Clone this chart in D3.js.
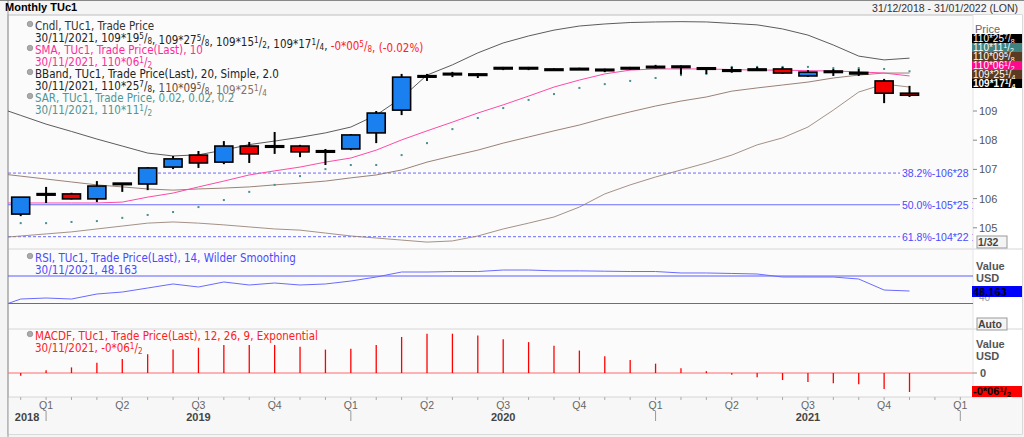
<!DOCTYPE html>
<html><head><meta charset="utf-8">
<script src="https://cdn.jsdelivr.net/npm/d3@7"></script>
<style>body{margin:0;background:#fff}svg{display:block;font-family:"Liberation Sans",Arial,sans-serif}.lg{font-family:"Liberation Sans Narrow","DejaVu Sans Condensed","Liberation Sans",sans-serif}</style>
</head><body><svg id="c" width="1024" height="437"></svg>
<script>
// ---- data (monthly, Dec 2018 .. Nov 2021) ----
const months = d3.range(36);
const open  = [105.47,106.16,106.16,105.99,106.53,106.50,107.08,107.49,107.25,107.80,107.80,107.80,107.63,107.70,108.25,109.03,110.18,110.25,110.27,110.45,110.49,110.44,110.46,110.43,110.45,110.51,110.50,110.48,110.41,110.44,110.44,110.20,110.37,110.32,110.03,109.61];
const high  = [106.05,106.40,106.20,106.60,106.53,107.08,107.46,107.63,107.97,107.94,108.28,107.84,107.70,108.21,109.00,110.27,110.27,110.34,110.30,110.51,110.51,110.46,110.48,110.45,110.51,110.58,110.56,110.50,110.51,110.51,110.51,110.40,110.44,110.44,110.10,109.86];
const low   = [105.40,105.85,105.97,105.88,106.23,106.29,107.01,107.05,107.18,107.22,107.53,107.42,107.15,107.66,107.90,108.86,110.03,110.16,110.13,110.40,110.40,110.42,110.42,110.33,110.42,110.46,110.25,110.27,110.31,110.37,110.27,110.17,110.20,110.20,109.27,109.48];
const close = [106.05,106.17,105.99,106.43,106.50,107.05,107.36,107.22,107.80,107.53,107.81,107.60,107.64,108.18,108.93,110.16,110.21,110.29,110.27,110.49,110.45,110.44,110.45,110.42,110.49,110.53,110.54,110.46,110.38,110.40,110.30,110.33,110.36,110.28,109.61,109.54];
const bbUpper = [108.85,108.55,108.30,108.04,107.80,107.56,107.46,107.50,107.66,107.85,107.97,108.10,108.25,108.45,108.86,109.45,110.23,110.58,110.99,111.33,111.57,111.77,111.91,111.98,112.03,112.05,112.06,112.05,112.00,111.95,111.81,111.60,111.26,110.88,110.75,110.81];
const bbMid = [106.77,106.67,106.57,106.47,106.40,106.33,106.29,106.33,106.36,106.40,106.47,106.53,106.60,106.71,106.81,106.98,107.25,107.46,107.66,107.90,108.11,108.32,108.52,108.76,108.97,109.17,109.34,109.48,109.68,109.79,109.89,109.99,110.13,110.23,110.30,110.30];
const bbLower = [104.72,104.79,104.86,104.96,105.06,105.16,105.20,105.16,105.10,105.03,104.96,104.92,104.82,104.72,104.65,104.58,104.51,104.55,104.72,104.96,105.16,105.37,105.71,106.16,106.47,106.74,106.98,107.22,107.49,107.84,108.08,108.45,109.03,109.65,109.92,109.82];
const sma = [105.85,105.85,105.85,105.85,105.88,106.05,106.19,106.40,106.60,106.81,106.95,107.08,107.25,107.39,107.66,108.01,108.32,108.62,108.93,109.21,109.51,109.82,110.06,110.27,110.40,110.44,110.44,110.44,110.42,110.40,110.40,110.38,110.37,110.34,110.30,110.20];
const sar = [105.16,105.16,105.20,105.23,105.34,105.44,105.54,105.71,105.95,106.23,106.47,106.77,107.01,107.15,107.15,107.49,107.90,108.38,108.76,109.10,109.38,109.58,109.79,109.92,110.03,110.13,110.23,110.27,110.51,110.51,110.51,110.51,110.47,110.47,110.44,110.36];
const rsi = [36.5,38.0,36.5,43.8,46.7,52.5,58.4,54.0,61.3,56.9,59.8,56.9,58.4,62.7,68.5,75.8,75.8,76.5,76.5,78.7,78.7,77.5,77.5,77.0,76.5,76.5,74.4,74.4,73.7,72.9,68.5,68.5,68.5,65.6,49.6,48.163];
const macd = [-0.03,0.03,0.06,0.11,0.15,0.20,0.25,0.27,0.30,0.30,0.30,0.28,0.25,0.26,0.30,0.385,0.42,0.42,0.40,0.36,0.33,0.29,0.24,0.18,0.14,0.10,0.05,0.02,-0.02,-0.045,-0.075,-0.095,-0.11,-0.12,-0.17,-0.203];
const priceTicks = [105,106,107,108,109];
const fibs = [{v:106.875,t:"38.2%-106*28",dash:"3,2"},{v:105.789,t:"50.0%-105*25 1/",dash:null},{v:104.695,t:"61.8%-104*22 1/",dash:"3,2"}];
const quarterTicks = [{i:1,t:"Q1"},{i:4,t:"Q2"},{i:7,t:"Q3"},{i:10,t:"Q4"},{i:13,t:"Q1"},{i:16,t:"Q2"},{i:19,t:"Q3"},{i:22,t:"Q4"},{i:25,t:"Q1"},{i:28,t:"Q2"},{i:31,t:"Q3"},{i:34,t:"Q4"},{i:37,t:"Q1"}];
const yearLabels = [{i:0.25,t:"2018"},{i:7,t:"2019"},{i:19,t:"2020"},{i:31,t:"2021"}];
const yearTicks = [1,13,25,37];

const svg = d3.select("#c");
const L=8, R=973;
const x = d3.scaleLinear().domain([-0.5,37.5]).range([L,R]);
const y = d3.scaleLinear().domain([105,109]).range([227.8,111]);
const yr = d3.scaleLinear().domain([30,70]).range([303.5,276]);
const ym = d3.scaleLinear().domain([0,-0.203]).range([373,392]);

svg.append("rect").attr("x",0).attr("y",0).attr("width",1024).attr("height",437).attr("fill","#f4f4f4");
svg.append("rect").attr("x",L).attr("y",15).attr("width",1014).attr("height",419).attr("fill","#fbfbfb").attr("stroke","#bdbdbd");
svg.append("rect").attr("x",R).attr("y",15).attr("width",1022-R).attr("height",382).attr("fill","#fff");
svg.append("rect").attr("x",L).attr("y",397).attr("width",1014).attr("height",37).attr("fill","#f7f7f7");
[249,329,397].forEach(v=>svg.append("line").attr("x1",L).attr("x2",1022).attr("y1",v).attr("y2",v).attr("stroke","#d6d6d6"));
svg.append("line").attr("x1",R).attr("x2",R).attr("y1",15).attr("y2",397).attr("stroke","#e4e4e4");
svg.append("line").attr("x1",L).attr("x2",L).attr("y1",0).attr("y2",437).attr("stroke","#999");
svg.append("line").attr("x1",0).attr("x2",1024).attr("y1",0.5).attr("y2",0.5).attr("stroke","#888");

svg.append("text").attr("x",5).attr("y",11).attr("font-size",11).attr("font-weight","bold").text("Monthly TUc1");
svg.append("text").attr("x",1018).attr("y",12).attr("font-size",10.5).attr("text-anchor","end").attr("fill","#333").text("31/12/2018 - 31/01/2022 (LON)");

function frac(t, s){
  const parts = s.split(/(\{\d+\/\d+\})/);
  parts.forEach(p=>{
    const m = p.match(/^\{(\d+)\/(\d+)\}$/);
    if(m){
      t.append("tspan").attr("font-size","0.7em").attr("dy",-3).text(m[1]);
      t.append("tspan").attr("dy",3).text("/");
      t.append("tspan").attr("font-size","0.7em").attr("dy",2).text(m[2]);
      t.append("tspan").attr("dy",-2).text("");
    } else if(p) t.append("tspan").text(p);
  });
  return t;
}

svg.append("clipPath").attr("id","pc").append("rect").attr("x",L).attr("y",15).attr("width",R-L).attr("height",234);
const g = svg.append("g").attr("clip-path","url(#pc)");

fibs.forEach(f=>{
  g.append("line").attr("x1",L).attr("x2",900).attr("y1",y(f.v)).attr("y2",y(f.v)).attr("stroke","#6b6bff").attr("stroke-width",1).attr("stroke-dasharray",f.dash);
  g.append("text").attr("x",902).attr("y",y(f.v)+4).attr("font-size",10.5).attr("fill","#4a4aff").text(f.t);
});

const ext = arr => [{i:-0.5,v:arr[0]+(arr[0]-arr[1])/2}].concat(arr.map((v,i)=>({i,v})));
const lineE = arr => d3.line().x(d=>x(d.i)).y(d=>y(d.v))(ext(arr));
g.append("path").attr("d",lineE(bbUpper)).attr("fill","none").attr("stroke","#4a4a4a").attr("stroke-width",0.9);
g.append("path").attr("d",lineE(bbMid)).attr("fill","none").attr("stroke","#8e7468").attr("stroke-width",0.9);
g.append("path").attr("d",lineE(bbLower)).attr("fill","none").attr("stroke","#9a8479").attr("stroke-width",0.9);
g.append("path").attr("d",lineE(sma)).attr("fill","none").attr("stroke","#ff4aa8").attr("stroke-width",1);
g.selectAll(".sar").data(sar).join("rect").attr("x",(d,i)=>x(i)-1).attr("y",d=>y(d)-1).attr("width",2).attr("height",2).attr("fill","#4a8f8f");

const cg = g.append("g");
months.forEach(i=>{
  cg.append("line").attr("x1",x(i)).attr("x2",x(i)).attr("y1",y(high[i])).attr("y2",y(low[i])).attr("stroke","#000").attr("stroke-width",2);
  const top = y(Math.max(open[i],close[i])), bot = y(Math.min(open[i],close[i]));
  const h = Math.max(bot-top,1.5);
  const col = close[i]>open[i] ? "#1a80f0" : "#f20000";
  cg.append("rect").attr("x",x(i)-9).attr("y",top).attr("width",18).attr("height",h).attr("fill",(bot-top)<2?"#000":col).attr("stroke","#000").attr("stroke-width",1.6);
});

priceTicks.forEach(v=>{
  svg.append("line").attr("x1",R).attr("x2",R+4).attr("y1",y(v)).attr("y2",y(v)).attr("stroke","#888");
  svg.append("text").attr("x",R+6).attr("y",y(v)+4).attr("font-size",11).attr("fill","#555").text(v);
});
svg.append("text").attr("x",R+2).attr("y",33).attr("font-size",11).attr("fill","#666").text("Price");
const tags = [["110*25{7/8}","#000","#fff",false],["110*11{1/2}","#3e8282","#fff",false],["110*09{5/8}","#5a3b22","#fff",false],["110*06{1/2}","#ff0a8c","#fff",false],["109*25{1/4}","#5a3b22","#fff",false],["109*17{1/4}","#000","#fff",true]];
tags.forEach((t,k)=>{
  const yy=34+k*9;
  svg.append("rect").attr("x",R-1).attr("y",yy).attr("width",50).attr("height",9).attr("fill",t[1]);
  frac(svg.append("text").attr("x",R).attr("y",yy+8).attr("font-size",10).attr("fill",t[2]).attr("font-weight",t[3]?"bold":null),t[0]);
});
function btn(t,yy){
  svg.append("rect").attr("x",R+4).attr("y",yy).attr("width",t.length*7+2).attr("height",12).attr("fill","#f4f4f4").attr("stroke","#999");
  svg.append("text").attr("x",R+5).attr("y",yy+10).attr("font-size",10.5).attr("font-weight","bold").attr("fill","#444").text(t);
}
btn("1/32",236);

const leg = (yy, parts, icon) => {
  if(icon) svg.append("circle").attr("cx",30).attr("cy",yy-6).attr("r",2.8).attr("fill","#aaa").attr("stroke","#777").attr("stroke-width",0.5);
  const t = svg.append("text").attr("class","lg").attr("x",35).attr("y",yy).attr("font-size",11.5);
  parts.forEach(p=>{ const s=t.append("tspan").attr("fill",p[1]); frac(s,p[0]); });
};
leg(30,[["Cndl, TUc1, Trade Price","#333"]],true);
leg(42,[["30/11/2021, 109*19{5/8}, 109*27{5/8}, 109*15{1/2}, 109*17{1/4}, ","#222"],["-0*00{5/8}, (-0.02%)","#ff2020"]]);
leg(54,[["SMA, TUc1, Trade Price(Last),  10","#ff2a9a"]],true);
leg(66,[["30/11/2021, 110*06{1/2}","#ff2a9a"]]);
leg(78,[["BBand, TUc1, Trade Price(Last),  20, Simple, 2.0","#222"]],true);
leg(90,[["30/11/2021, 110*25{7/8}, ","#222"],["110*09{5/8}, ","#6b4a35"],["109*25{1/4}","#8a6e5e"]]);
leg(102,[["SAR, TUc1, Trade Price,  0.02, 0.02, 0.2","#4f9595"]],true);
leg(114,[["30/11/2021, 110*11{1/2}","#4f9595"]]);

[70,30].forEach(v=>svg.append("line").attr("x1",L).attr("x2",R).attr("y1",yr(v)).attr("y2",yr(v)).attr("stroke","#5c5cff"));
const rl = [{i:-0.5,v:30}].concat(rsi.map((v,i)=>({i,v})));
svg.append("path").attr("d",d3.line().x(d=>x(d.i)).y(d=>yr(d.v))(rl)).attr("fill","none").attr("stroke","#6a6aff").attr("stroke-width",1);
leg(262,[["RSI, TUc1, Trade Price(Last),  14, Wilder Smoothing","#4a4aff"]],true);
leg(274,[["30/11/2021, 48.163","#4a4aff"]]);
svg.append("text").attr("x",R+3).attr("y",270).attr("font-size",11).attr("font-weight","bold").attr("fill","#555").text("Value");
svg.append("text").attr("x",R+3).attr("y",282).attr("font-size",11).attr("font-weight","bold").attr("fill","#555").text("USD");
svg.append("text").attr("x",R+6).attr("y",yr(40)+4).attr("font-size",10).attr("fill","#999").text("40");
svg.append("rect").attr("x",R-1).attr("y",yr(48.163)-5).attr("width",50).attr("height",11).attr("fill","#0000ff");
svg.append("text").attr("x",R).attr("y",yr(48.163)+5).attr("font-size",11).attr("font-weight","bold").attr("fill","#000").text("48.163");
btn("Auto",318);

svg.append("line").attr("x1",L).attr("x2",R).attr("y1",ym(0)).attr("y2",ym(0)).attr("stroke","#ff6a6a");
svg.selectAll(".mb").data(macd).join("line").attr("x1",(d,i)=>x(i)).attr("x2",(d,i)=>x(i)).attr("y1",ym(0)).attr("y2",d=>ym(d)).attr("stroke","#ff0000").attr("stroke-width",1.3);
leg(340,[["MACDF, TUc1, Trade Price(Last),  12, 26, 9, Exponential","#ff2020"]],true);
leg(352,[["30/11/2021, -0*06{1/2}","#ff2020"]]);
svg.append("text").attr("x",R+3).attr("y",348).attr("font-size",11).attr("font-weight","bold").attr("fill","#555").text("Value");
svg.append("text").attr("x",R+3).attr("y",360).attr("font-size",11).attr("font-weight","bold").attr("fill","#555").text("USD");
svg.append("line").attr("x1",R).attr("x2",R+4).attr("y1",ym(0)).attr("y2",ym(0)).attr("stroke","#888");
svg.append("text").attr("x",R+7).attr("y",ym(0)+4).attr("font-size",11).attr("font-weight","bold").attr("fill","#555").text("0");
svg.append("rect").attr("x",R-1).attr("y",386).attr("width",50).attr("height",11).attr("fill","#ff0000");
frac(svg.append("text").attr("x",R).attr("y",395).attr("font-size",11).attr("font-weight","bold").attr("fill","#000"),"-0*06{1/2}");

d3.range(38).forEach(i=>svg.append("line").attr("x1",x(i)).attr("x2",x(i)).attr("y1",397).attr("y2",400).attr("stroke","#aaa"));
quarterTicks.forEach(q=>svg.append("text").attr("x",x(q.i)).attr("y",409).attr("font-size",10.5).attr("text-anchor","middle").attr("fill","#666").text(q.t));
yearTicks.forEach(i=>svg.append("line").attr("x1",x(i)).attr("x2",x(i)).attr("y1",411).attr("y2",421).attr("stroke","#999"));
yearLabels.forEach(q=>svg.append("text").attr("x",x(q.i)).attr("y",421).attr("font-size",11).attr("font-weight","bold").attr("text-anchor","middle").attr("fill","#444").text(q.t));
</script></body></html>
